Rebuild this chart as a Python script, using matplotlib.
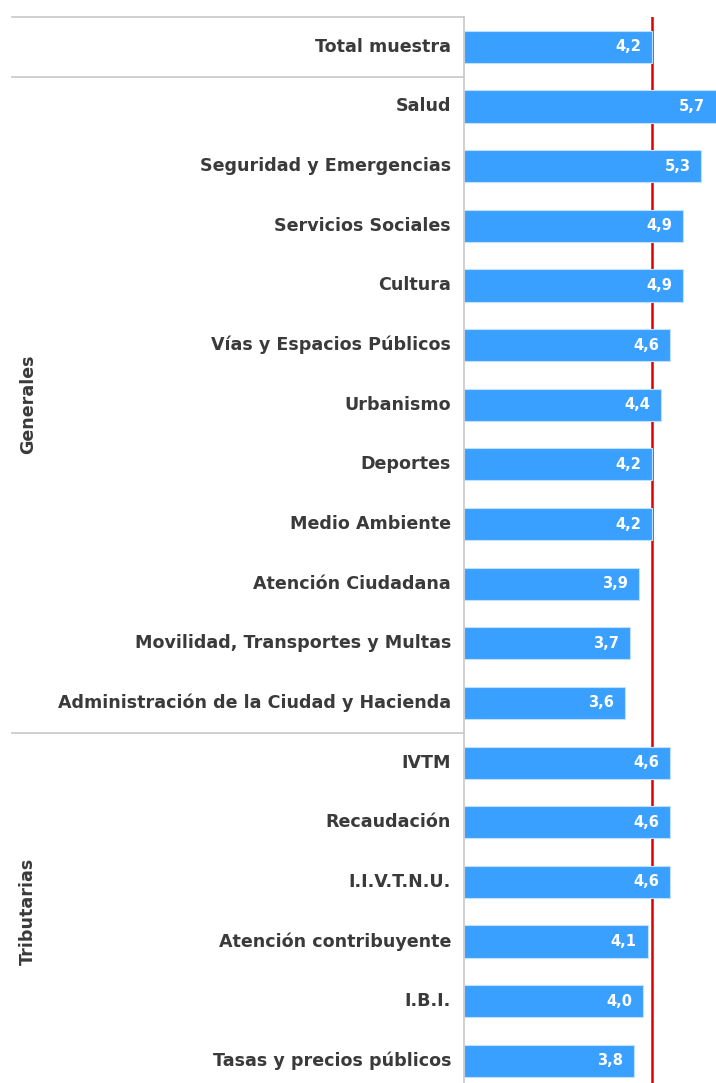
import matplotlib
matplotlib.use("Agg")
import matplotlib.pyplot as plt
from matplotlib.transforms import blended_transform_factory

# datos
categorias = ["Total muestra", "Salud", "Seguridad y Emergencias", "Servicios Sociales",
              "Cultura", "Vías y Espacios Públicos", "Urbanismo", "Deportes",
              "Medio Ambiente", "Atención Ciudadana", "Movilidad, Transportes y Multas",
              "Administración de la Ciudad y Hacienda", "IVTM", "Recaudación",
              "I.I.V.T.N.U.", "Atención contribuyente", "I.B.I.", "Tasas y precios públicos"]
valores = [4.2, 5.7, 5.3, 4.9, 4.9, 4.6, 4.4, 4.2, 4.2, 3.9, 3.7, 3.6,
           4.6, 4.6, 4.6, 4.1, 4.0, 3.8]
grupos = [("Generales", 1, 11), ("Tributarias", 12, 17)]
referencia = 4.2

W, H = 716, 1083
fig = plt.figure(figsize=(W / 100, H / 100), dpi=100)
left, top = 464, 17
paso = 59.65
bottom = top + paso * len(categorias)
ax = fig.add_axes([left / W, 1 - bottom / H, (W - left) / W, (bottom - top) / H])

azul = "#3AA0FF"
gris_texto = "#3a3a3a"
gris_linea = "#c8c8c8"

y = list(range(len(categorias)))
ax.axvline(referencia, color="#dd0000", lw=1.8, zorder=1)
ax.barh(y, valores, height=0.54, color=azul, edgecolor="#bfe0ff", linewidth=0.8, zorder=2)
ax.set_xlim(0, 5.63)
ax.set_ylim(len(categorias) - 0.5, -0.5)

for i, (cat, v) in enumerate(zip(categorias, valores)):
    ax.text(-13 / 44.8, i, cat, ha="right", va="center", fontsize=12.6,
            fontweight="bold", color=gris_texto, clip_on=False)
    ax.text(min(v, 5.63) - 0.24, i, f"{v:.1f}".replace(".", ","), ha="right",
            va="center", fontsize=10.5, fontweight="bold", color="white", zorder=3)

# separadores
tr = blended_transform_factory(fig.transFigure, ax.transData)
for yy in [-0.5, 0.5, 11.5]:
    ax.plot([12 / W, left / W], [yy, yy], color=gris_linea, lw=1.2,
            transform=tr, clip_on=False)

for nombre, a, b in grupos:
    ax.text(28 / W, (a + b) / 2, nombre, transform=tr, rotation=90,
            ha="center", va="center", fontsize=12.6, fontweight="bold",
            color=gris_texto)

for s in ["top", "right", "bottom"]:
    ax.spines[s].set_visible(False)
ax.spines["left"].set_color(gris_linea)
ax.spines["left"].set_linewidth(1.2)
ax.set_xticks([])
ax.set_yticks([])

fig.savefig("out.png", dpi=100)
